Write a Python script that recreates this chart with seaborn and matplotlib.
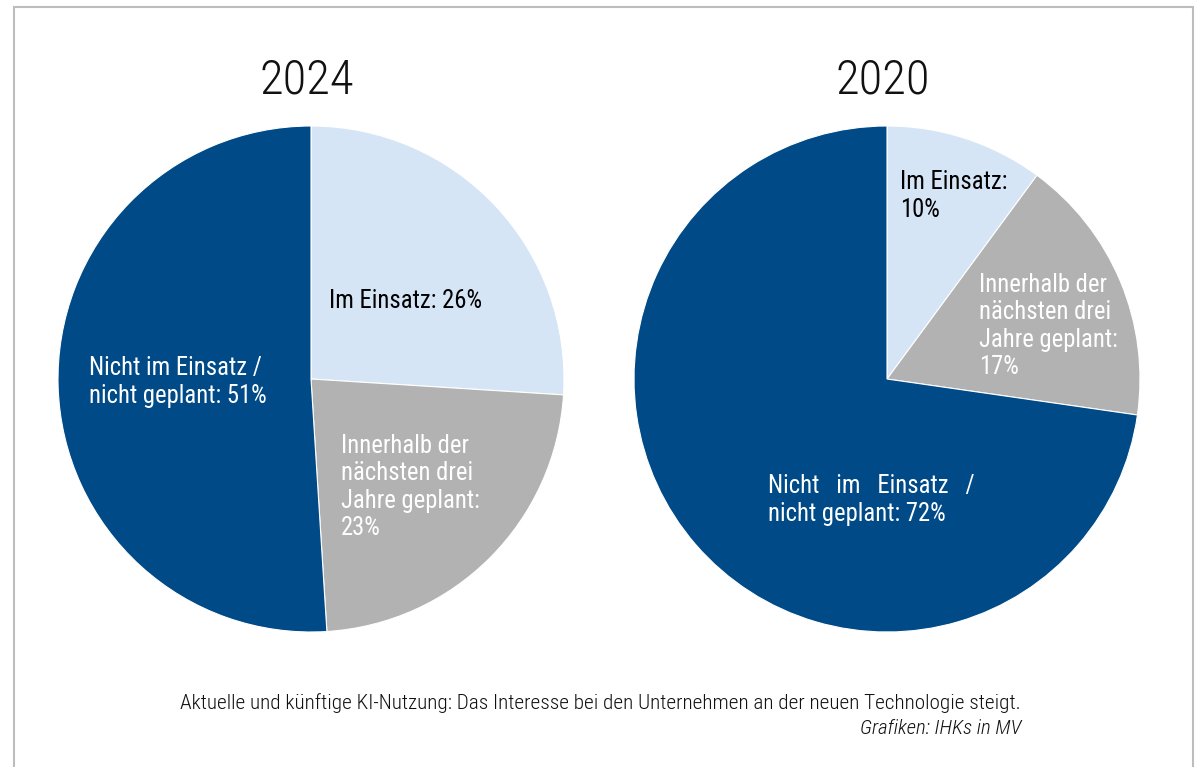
import matplotlib
matplotlib.use("Agg")
import matplotlib.pyplot as plt
import seaborn as sns
from matplotlib.patches import Rectangle

# ---- data ----
years = ["2024", "2020"]
categories = ["Im Einsatz", "Innerhalb der nächsten drei Jahre geplant", "Nicht im Einsatz / nicht geplant"]
values_2024 = [26, 23, 51]
values_2020 = [10, 17, 72]
colors = ["#d5e5f6", "#b2b2b2", "#004a87"]
caption = "Aktuelle und künftige KI-Nutzung: Das Interesse bei den Unternehmen an der neuen Technologie steigt."
credit = "Grafiken: IHKs in MV"

sns.set_theme(style="white")
plt.rcParams["font.family"] = ["Roboto Condensed", "DejaVu Sans"]

W, H = 1200, 767
fig = plt.figure(figsize=(W / 100, H / 100), dpi=100)
fig.patch.set_facecolor("white")


def fx(x):
    return x / W


def fy(y):
    return 1 - y / H


R = 253
centers = [(311, 379), (887, 379)]
all_values = [values_2024, values_2020]

for (cx, cy), vals, yr in zip(centers, all_values, years):
    ax = fig.add_axes([fx(cx - R), fy(cy + R), 2 * R / W, 2 * R / H])
    ax.pie(vals, colors=colors, startangle=90, counterclock=False,
           radius=1, wedgeprops=dict(edgecolor="white", linewidth=0.8))
    ax.set_xlim(-1, 1)
    ax.set_ylim(-1, 1)
    ax.set_aspect("auto")
    ax.axis("off")
    fig.text(fx(cx - 4), fy(80), yr, ha="center", va="center", fontsize=35,
             fontweight="light", color="#111111")

lab = dict(fontsize=17.7, ha="left", va="center", linespacing=1.19)

# 2024 labels
fig.text(fx(329), fy(301), f"Im Einsatz: {values_2024[0]}%", color="black", **lab)
fig.text(fx(341), fy(487), f"Innerhalb der\nnächsten drei\nJahre geplant:\n{values_2024[1]}%",
         color="white", **lab)
fig.text(fx(89), fy(382), f"Nicht im Einsatz /\nnicht geplant: {values_2024[2]}%",
         color="white", **lab)

# 2020 labels
fig.text(fx(900), fy(196), f"Im Einsatz:\n{values_2020[0]}%", color="black", **lab)
fig.text(fx(979), fy(326), f"Innerhalb der\nnächsten drei\nJahre geplant:\n{values_2020[1]}%",
         color="white", **lab)
fig.text(fx(768), fy(500), f"Nicht   im   Einsatz   /\nnicht geplant: {values_2020[2]}%",
         color="white", **lab)

# caption
fig.text(fx(1021), fy(703), caption, ha="right", va="center", fontsize=15.3,
         fontweight="light", color="#111111")
fig.text(fx(1021), fy(729), credit, ha="right", va="center", fontsize=15,
         style="italic", fontweight="light", color="#111111")

# frame
fig.patches.append(Rectangle((fx(14), -0.05), fx(1193) - fx(14), fy(7) + 0.05,
                             transform=fig.transFigure, fill=False,
                             edgecolor="#bdbdbd", linewidth=1.5))

fig.savefig("out.png", dpi=100, facecolor="white")
